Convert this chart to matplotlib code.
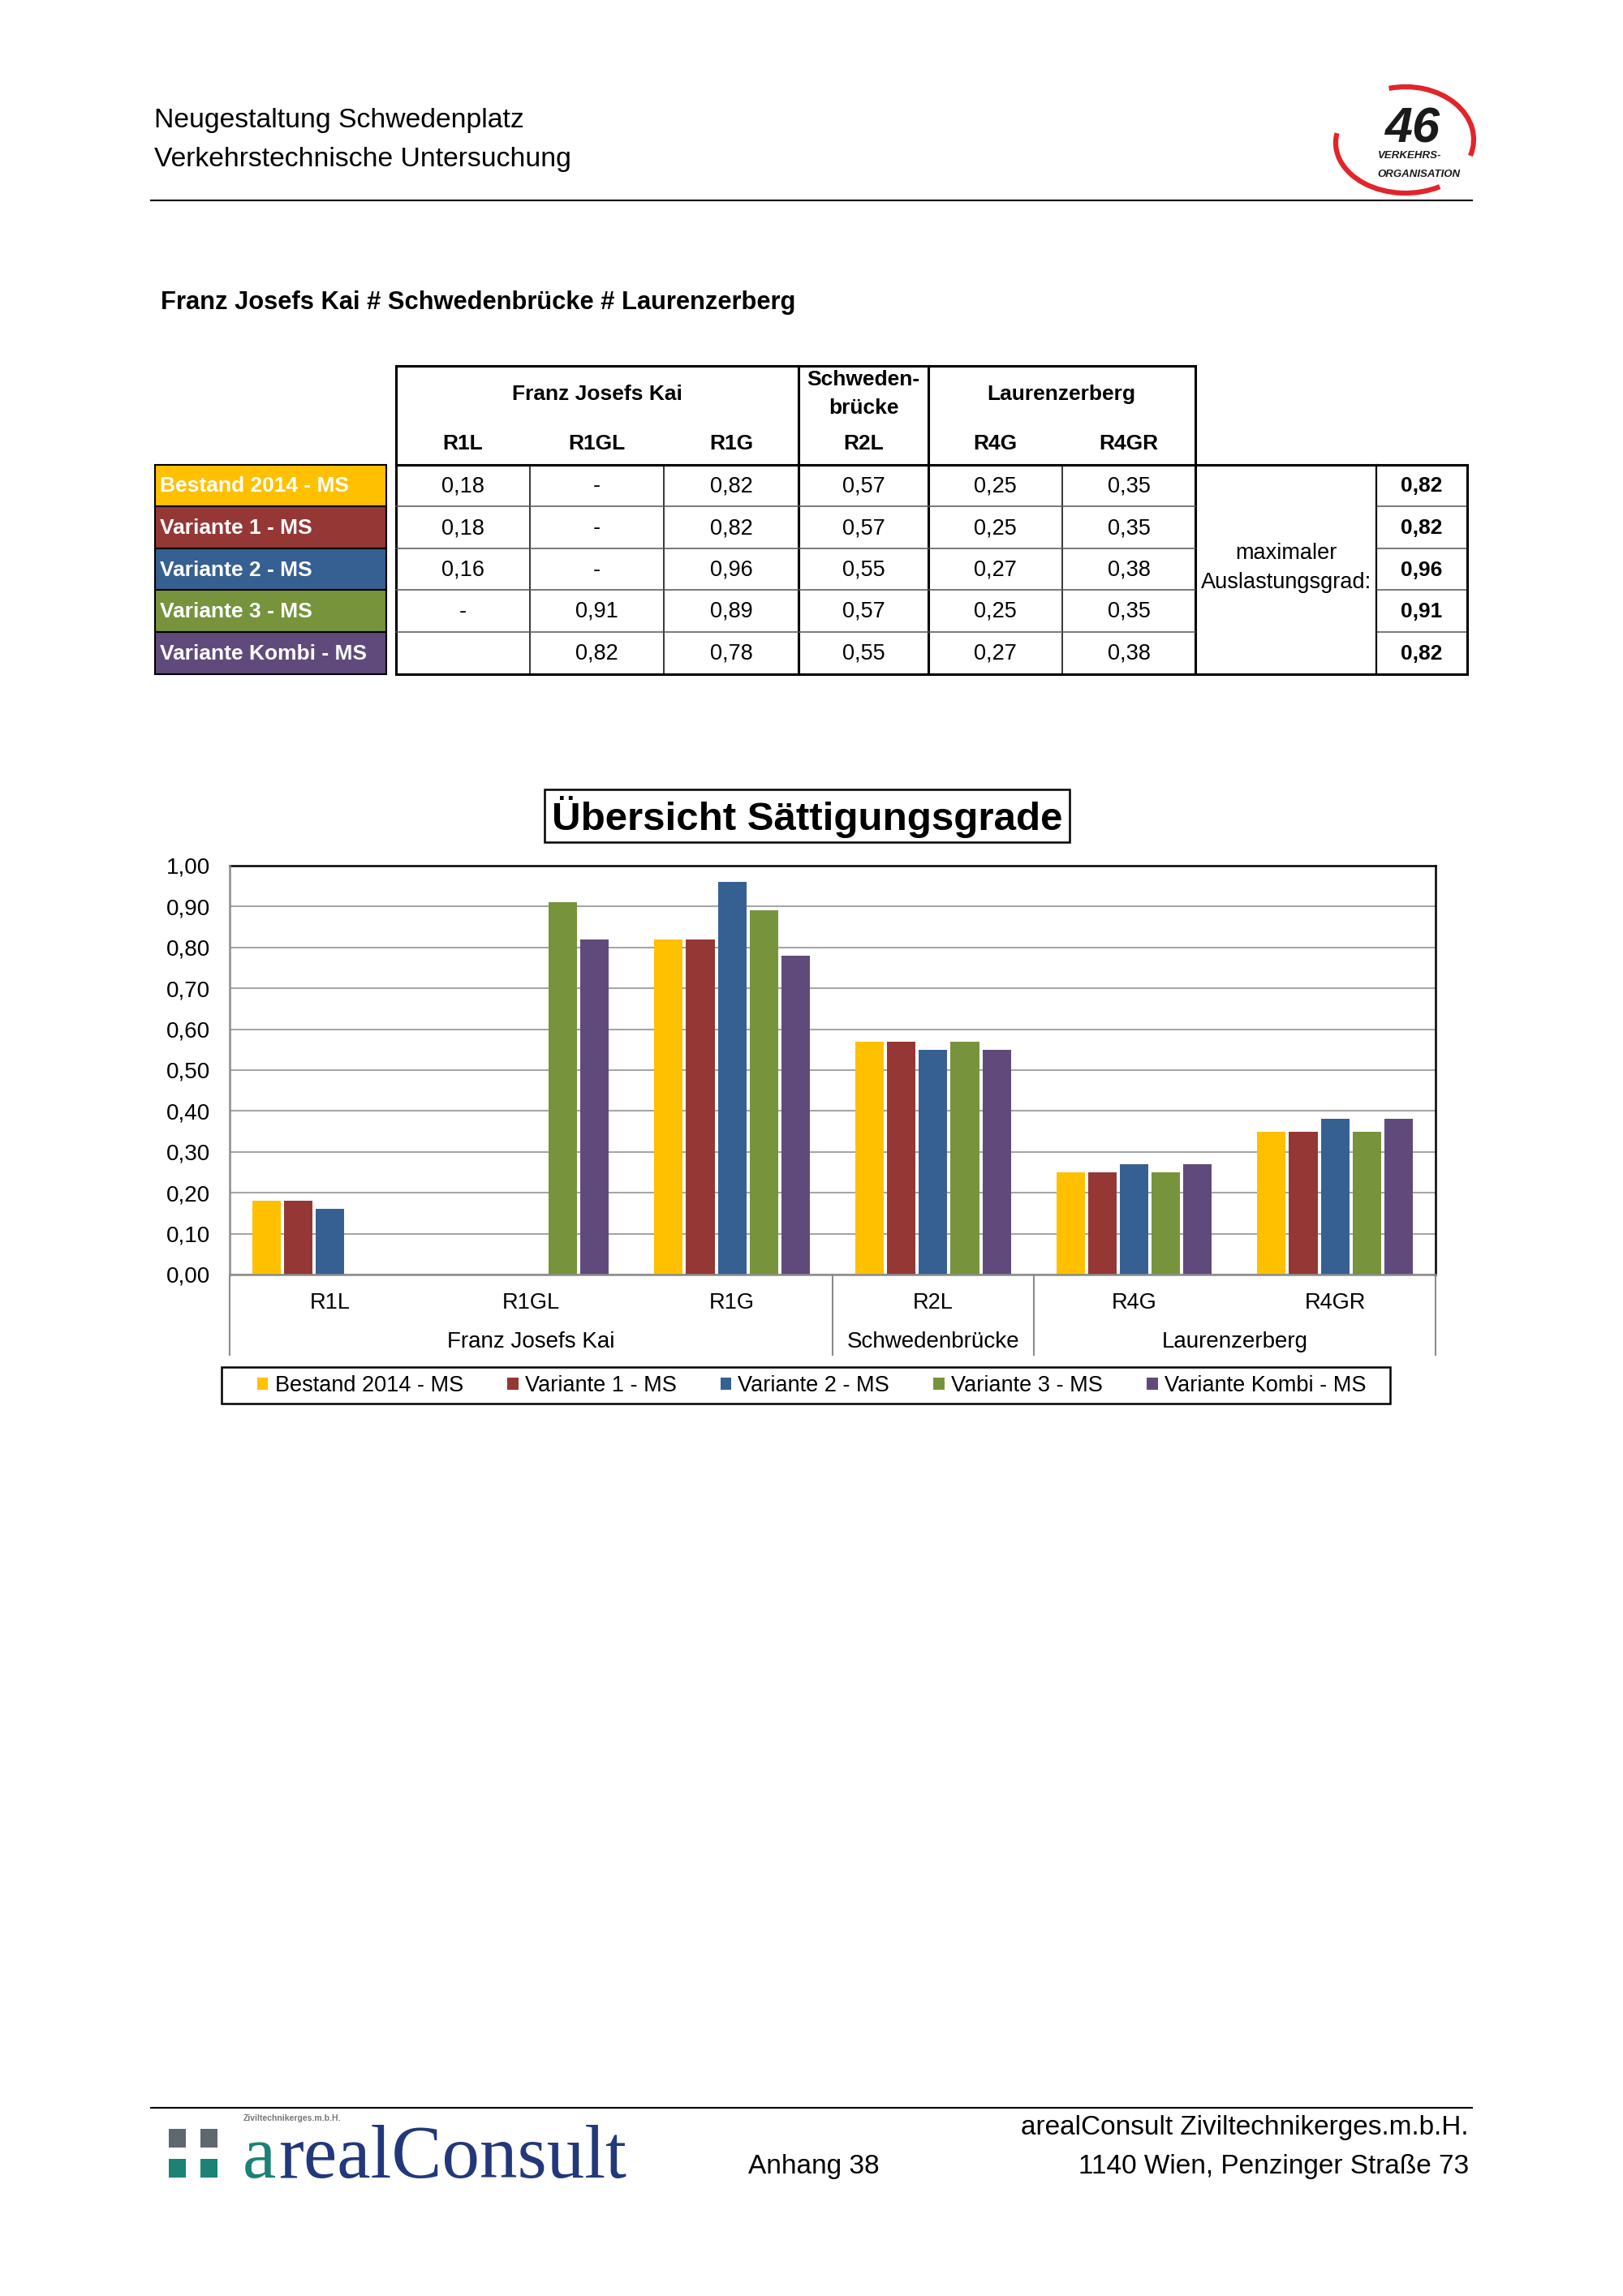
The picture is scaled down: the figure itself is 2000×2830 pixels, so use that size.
import numpy as np
import matplotlib
matplotlib.use('Agg')
from matplotlib import pyplot as plt
from matplotlib.patches import Rectangle, Arc, Patch
from matplotlib.ticker import FuncFormatter

plt.rcParams['font.family'] = ['Liberation Sans', 'DejaVu Sans']

# data
streets = ['R1L', 'R1GL', 'R1G', 'R2L', 'R4G', 'R4GR']
groups = ['Franz Josefs Kai', 'Schwedenbrücke', 'Laurenzerberg']
group_spans = [(0, 3), (3, 4), (4, 6)]
series = ['Bestand 2014 - MS', 'Variante 1 - MS', 'Variante 2 - MS',
          'Variante 3 - MS', 'Variante Kombi - MS']
colors = ['#FFC000', '#953735', '#376092', '#77933C', '#604A7B']

bestand = [0.18, np.nan, 0.82, 0.57, 0.25, 0.35]
variante1 = [0.18, np.nan, 0.82, 0.57, 0.25, 0.35]
variante2 = [0.16, np.nan, 0.96, 0.55, 0.27, 0.38]
variante3 = [np.nan, 0.91, 0.89, 0.57, 0.25, 0.35]
kombi = [np.nan, 0.82, 0.78, 0.55, 0.27, 0.38]
values = [bestand, variante1, variante2, variante3, kombi]
max_grad = [0.82, 0.82, 0.96, 0.91, 0.82]
blank_cells = [(4, 0)]  # empty instead of "-"

yticks = np.arange(0, 1.01, 0.1)


def fmt(v):
    return f"{v:.2f}".replace('.', ',')


fig = plt.figure(figsize=(20, 28.3), dpi=100)
bg = fig.add_axes([0, 0, 1, 1])
bg.set_xlim(0, 2000)
bg.set_ylim(2830, 0)
bg.axis('off')

# page header
bg.text(190, 148, 'Neugestaltung Schwedenplatz', fontsize=24.3, va='center')
bg.text(190, 197, 'Verkehrstechnische Untersuchung', fontsize=24.3, va='center')
bg.plot([186, 1814], [247, 247], color='black', lw=1.5)

# 46 logo
bg.add_patch(Arc((1732, 172), 168, 130, theta1=-108, theta2=14, color='#E2242B', lw=4.5))
bg.add_patch(Arc((1732, 176), 172, 124, theta1=52, theta2=188, color='#E2242B', lw=4.5))
bg.text(1740, 160, '46', fontsize=44, fontweight='bold', fontstyle='italic',
        ha='center', va='center', color='#1a1a1a')
bg.text(1698, 192, 'VERKEHRS-', fontsize=9.5, fontweight='bold', fontstyle='italic',
        va='center', color='#1a1a1a')
bg.text(1697, 215, 'ORGANISATION', fontsize=9.5, fontweight='bold', fontstyle='italic',
        va='center', color='#1a1a1a')

bg.text(198, 373, 'Franz Josefs Kai # Schwedenbrücke # Laurenzerberg',
        fontsize=22.2, fontweight='bold', va='center')

# table
cols_x = [488, 653, 818, 984, 1144, 1309, 1473]
rows_y = [573, 624, 676, 727, 779, 831]
top_y = 451
thick, thin = 2.2, 1.1
tfs = 19

bg.plot([488, 1473], [top_y, top_y], color='black', lw=thick)
bg.plot([488, 1808], [573, 573], color='black', lw=thick)
bg.plot([488, 1808], [831, 831], color='black', lw=thick)
for x in [488, 984, 1144, 1473]:
    bg.plot([x, x], [top_y, 831], color='black', lw=thick)
for x in [653, 818, 1309]:
    bg.plot([x, x], [573, 831], color='black', lw=thin)
for y in rows_y[1:-1]:
    bg.plot([488, 1473], [y, y], color='#555555', lw=thin)
    bg.plot([1696, 1808], [y, y], color='#555555', lw=thin)
bg.plot([1696, 1696], [573, 831], color='black', lw=1.6)
bg.plot([1808, 1808], [573, 831], color='black', lw=thick)

bg.text(736, 486, 'Franz Josefs Kai', fontsize=tfs, fontweight='bold', ha='center', va='center')
bg.text(1064, 468, 'Schweden-', fontsize=tfs, fontweight='bold', ha='center', va='center')
bg.text(1064, 503, 'brücke', fontsize=tfs, fontweight='bold', ha='center', va='center')
bg.text(1308, 486, 'Laurenzerberg', fontsize=tfs, fontweight='bold', ha='center', va='center')
col_centers = [(cols_x[i] + cols_x[i + 1]) / 2 for i in range(6)]
for cx, name in zip(col_centers, streets):
    bg.text(cx, 547, name, fontsize=tfs, fontweight='bold', ha='center', va='center')

for r, (name, col, vals) in enumerate(zip(series, colors, values)):
    y0, y1 = rows_y[r], rows_y[r + 1]
    yc = (y0 + y1) / 2
    bg.add_patch(Rectangle((191, y0), 285, y1 - y0, facecolor=col,
                           edgecolor='black', lw=1.5))
    bg.text(197, yc + 1, name, fontsize=tfs, fontweight='bold', color='white', va='center')
    for c, v in enumerate(vals):
        if (r, c) in blank_cells:
            s = ''
        elif np.isnan(v):
            s = '-'
        else:
            s = fmt(v)
        bg.text(col_centers[c], yc + 1, s, fontsize=tfs + 0.5, ha='center', va='center')
    bg.text(1752, yc + 1, fmt(max_grad[r]), fontsize=tfs, fontweight='bold',
            ha='center', va='center')

bg.text(1585, 682, 'maximaler', fontsize=tfs + 0.5, ha='center', va='center')
bg.text(1585, 718, 'Auslastungsgrad:', fontsize=tfs + 0.5, ha='center', va='center')

# chart title
bg.text(995, 1007, 'Übersicht Sättigungsgrade', fontsize=35.5, fontweight='bold',
        ha='center', va='center')
bg.add_patch(Rectangle((671, 973), 647, 65, facecolor='none', edgecolor='black', lw=1.8))

# chart
L, R, T, B = 283, 1769, 1067, 1571
ax = fig.add_axes([L / 2000, 1 - B / 2830, (R - L) / 2000, (B - T) / 2830])
ax.set_facecolor('none')
x = np.arange(len(streets))
slot, bw = 0.158, 0.142
for i, (name, col, vals) in enumerate(zip(series, colors, values)):
    ax.bar(x + (i - 2) * slot, vals, width=bw, color=col, label=name, zorder=3)

ax.set_xlim(-0.5, len(streets) - 0.5)
ax.set_ylim(0, 1)
ax.set_yticks(yticks)
ax.yaxis.set_major_formatter(FuncFormatter(lambda v, p: fmt(v)))
ax.grid(axis='y', color='#A6A6A6', lw=1.5, zorder=0)
ax.set_xticks(x)
ax.set_xticklabels(streets)
ax.tick_params(axis='y', length=0, labelsize=20, pad=17)
ax.tick_params(axis='x', length=0, labelsize=19.5, pad=16)
for side in ['top', 'right']:
    ax.spines[side].set_color('black')
    ax.spines[side].set_linewidth(1.8)
for side in ['left', 'bottom']:
    ax.spines[side].set_color('#8C8C8C')
    ax.spines[side].set_linewidth(1.8)
    ax.spines[side].set_zorder(4)

trans = ax.get_xaxis_transform()
low = -(1670 - B) / (B - T)
for xs in [-0.5, 2.5, 3.5, 5.5]:
    ax.plot([xs, xs], [0, low], transform=trans, color='#8C8C8C', lw=1.5, clip_on=False)
for g, (a, b) in zip(groups, group_spans):
    ax.text((a + b - 1) / 2, -(1654 - B) / (B - T), g, transform=trans,
            fontsize=20, ha='center', va='center')

# legend
handles = [Patch(facecolor=c, edgecolor='none') for c in colors]
fig.legend(handles, series, loc='center', bbox_to_anchor=(1000 / 2000, 1 - 1708 / 2830),
           ncol=5, frameon=False, fontsize=19.5, handlelength=0.5, handleheight=0.5,
           handletextpad=0.3, columnspacing=2.0)
bg.add_patch(Rectangle((273, 1685), 1440, 45, facecolor='none', edgecolor='black', lw=1.8))

# footer
bg.plot([186, 1814], [2598, 2598], color='black', lw=1.5)
bg.text(1810, 2623, 'arealConsult Ziviltechnikerges.m.b.H.', fontsize=24,
        ha='right', va='center')
bg.text(1810, 2671, '1140 Wien, Penzinger Straße 73', fontsize=24,
        ha='right', va='center')
bg.text(1003, 2671, 'Anhang 38', fontsize=24, ha='center', va='center')

for sx in [208, 247]:
    bg.add_patch(Rectangle((sx, 2624), 21, 23, facecolor='#5F6770', edgecolor='none'))
    bg.add_patch(Rectangle((sx, 2661), 21, 23, facecolor='#1C8275', edgecolor='none'))
bg.text(299, 2684, 'a', fontsize=67, family='Liberation Serif', color='#1C8275', va='baseline')
bg.text(343, 2684, 'realConsult', fontsize=67, family='Liberation Serif',
        color='#22387A', va='baseline')
bg.text(300, 2611, 'Ziviltechnikerges.m.b.H.', fontsize=7.5, fontweight='bold',
        color='#777777', va='center')

fig.savefig('out.png', dpi=100, facecolor='white')
